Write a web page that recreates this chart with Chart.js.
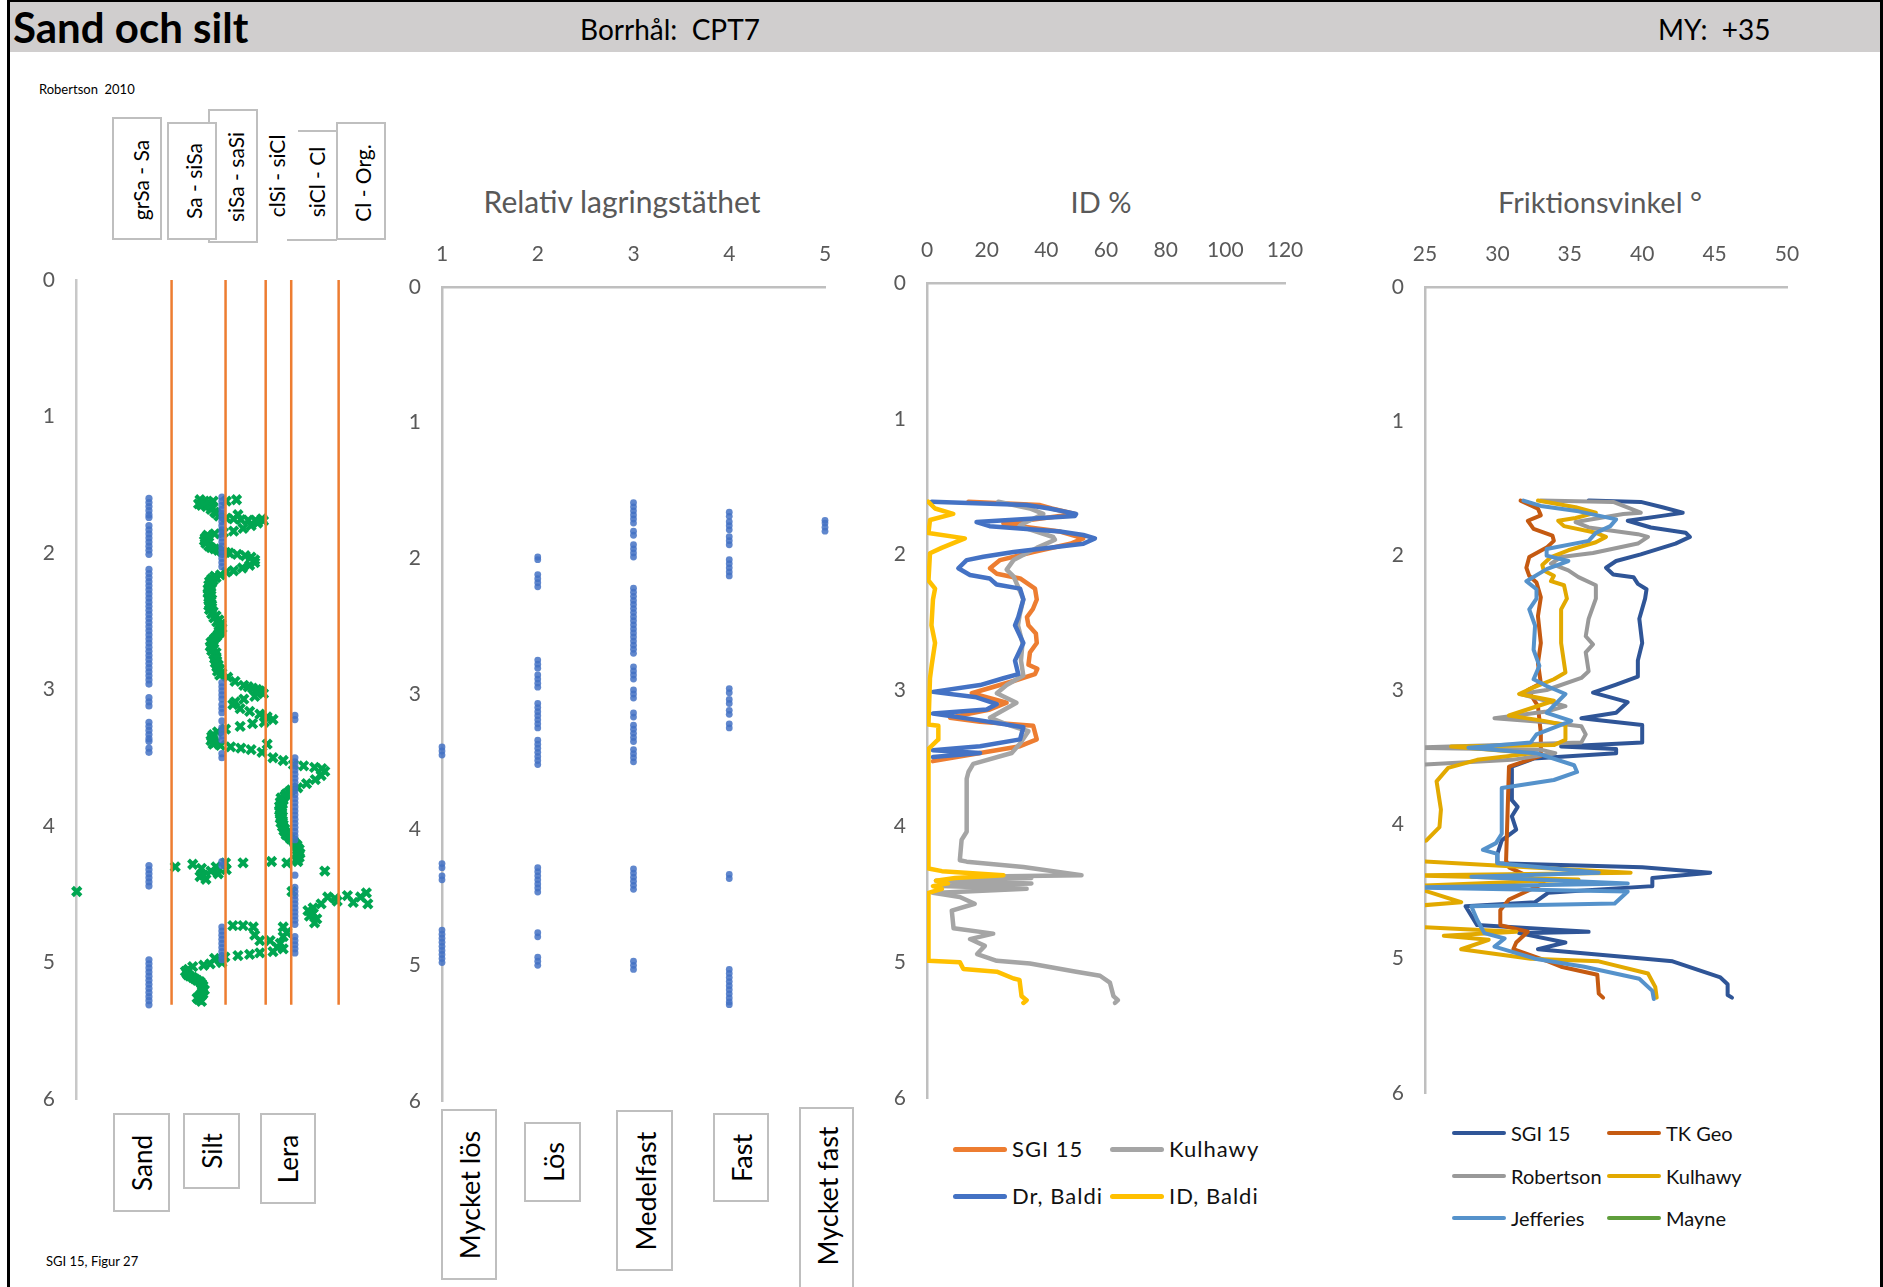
<!DOCTYPE html>
<html>
<head>
<meta charset="utf-8">
<title>Sand och silt – CPT7</title>
<script src="https://cdn.jsdelivr.net/npm/chart.js@4.4.1/dist/chart.umd.min.js"></script>
<style>
  html, body { margin: 0; padding: 0; background: #fff; }
  body { position: relative; width: 1883px; height: 1287px; overflow: hidden;
         font-family: Lato, "Open Sans", sans-serif; color: #000; }
  canvas { position: absolute; }
  .abs { position: absolute; }
  .txt { position: absolute; white-space: nowrap; line-height: 1; }
  .vtxt { position: absolute; white-space: nowrap; line-height: 1;
          transform: translate(-50%, -50%) rotate(-90deg); }
  .box { position: absolute; box-sizing: border-box; border: 2px solid #bfbfbf; background: #fff; }
  .sw { position: absolute; border-radius: 3px; }
</style>
</head>
<body>
<div class="abs" style="left:7px;top:0;width:1876px;height:1287px;border-left:3px solid #000;border-right:3px solid #000;border-top:2px solid #000;box-sizing:border-box;"></div>
<div class="abs" style="left:10px;top:2px;width:1870px;height:50px;background:#d0cece;"></div>
<div class="txt" style="left:13px;top:6px;font-size:42px;font-weight:700;">Sand och silt</div>
<div class="txt" style="left:580px;top:15px;font-size:28px;">Borrhål:&nbsp; CPT7</div>
<div class="txt" style="left:1658px;top:15px;font-size:28px;">MY:&nbsp; +35</div>
<div class="txt" style="left:39px;top:83px;font-size:13px;">Robertson&nbsp; 2010</div>
<div class="txt" style="left:46px;top:1255px;font-size:13px;">SGI 15, Figur 27</div>

<div id="labels"></div>

<canvas id="cSoil"></canvas>
<canvas id="cDensity"></canvas>
<canvas id="cId"></canvas>
<canvas id="cPhi"></canvas>

<script>
// ---------------- data ----------------
const depthTicks = [0, 1, 2, 3, 4, 5, 6];

// Robertson (2010) soil behaviour zones, Ic boundaries
const zoneNames  = ['grSa - Sa', 'Sa - siSa', 'siSa - saSi', 'clSi - siCl', 'siCl - Cl', 'Cl - Org.'];
const zoneBounds = [1.31, 2.05, 2.60, 2.95, 3.60];
const zoneLineDepth = [0, 5.31];

// soil type columns (x = 1 sand, 2 silt, 3 clay)
const soilTypes = ['Sand', 'Silt', 'Lera'];
const sandDepths = [1.60,1.63,1.66,1.69,1.72,1.74,1.80,1.83,1.86,1.89,1.92,1.95,1.98,2.01,
  2.12,2.15,2.18,2.21,2.24,2.27,2.30,2.33,2.36,2.39,2.42,2.45,2.48,2.51,2.54,2.57,2.60,2.63,2.66,
  2.69,2.72,2.75,2.78,2.81,2.84,2.87,2.90,2.93,2.96,3.06,3.09,3.12,3.24,3.27,3.30,3.33,3.36,3.38,
  3.43,3.46,4.29,4.32,4.35,4.38,4.41,4.44,4.98,5.01,5.04,5.07,5.10,5.13,5.16,5.19,5.22,5.25,5.28,5.31];
const siltDepths = [1.59,1.62,1.65,1.68,1.71,1.74,1.77,1.80,1.83,1.86,1.89,1.92,1.95,1.98,2.01,2.04,
  2.07,2.10,2.95,2.98,3.01,3.04,3.07,3.11,3.14,3.17,3.23,3.28,3.31,3.34,3.37,3.47,3.50,4.26,4.29,
  4.74,4.77,4.80,4.83,4.86,4.89,4.92,4.95,4.98];
const clayDepths = [3.19,3.22,3.50,3.53,3.56,3.59,3.62,3.65,3.68,3.71,3.74,3.77,3.80,3.83,3.86,3.89,
  3.92,3.95,3.98,4.01,4.04,4.07,4.10,4.36,4.45,4.48,4.51,4.54,4.57,4.60,4.63,4.66,4.69,4.72,
  4.81,4.84,4.87,4.90,4.93];

// soil behaviour index Ic vs depth [Ic, depth]
const icProfile = [
  [1.70,1.61],[1.76,1.62],[1.82,1.63],[1.88,1.62],[2.06,1.62],[2.20,1.61],[1.72,1.65],[1.79,1.66],
  [1.68,1.64],[1.75,1.64],[1.83,1.65],[1.87,1.67],[1.92,1.71],
  [1.85,1.68],[1.90,1.70],[2.22,1.72],[1.96,1.73],[2.06,1.745],[2.16,1.75],[2.26,1.755],[2.36,1.76],
  [2.46,1.76],[2.55,1.75],[2.57,1.765],[2.49,1.78],[2.40,1.80],[2.29,1.82],[2.16,1.84],[2.02,1.85],
  [1.90,1.86],[1.82,1.88],[1.78,1.90],[1.79,1.92],[1.82,1.95],[1.90,1.97],[2.00,1.99],[2.10,2.00],
  [1.80,1.87],[1.77,1.89],[1.76,1.91],[1.78,1.93],[1.85,1.96],[1.95,1.98],[2.05,1.995],
  [2.21,2.01],[2.32,2.02],[2.40,2.03],[2.45,2.05],[2.45,2.07],[2.38,2.09],[2.28,2.11],[2.16,2.13],
  [2.06,2.14],[1.98,2.16],[1.92,2.18],[1.88,2.20],[1.86,2.22],[1.85,2.25],[1.84,2.28],[1.85,2.31],
  [1.86,2.34],[1.85,2.37],[1.86,2.40],[1.88,2.43],[1.92,2.46],[1.96,2.49],[1.99,2.52],[2.00,2.55],
  [1.98,2.58],[1.93,2.61],[1.88,2.64],[1.87,2.67],[1.89,2.70],[1.92,2.73],[1.92,2.76],[1.93,2.79],
  [1.95,2.82],[1.97,2.85],[2.00,2.88],
  [1.90,2.17],[1.86,2.19],[1.83,2.21],[1.82,2.235],[1.81,2.265],[1.81,2.295],[1.82,2.325],[1.83,2.355],
  [1.82,2.385],[1.83,2.415],[1.86,2.445],[1.89,2.475],[1.93,2.505],[1.96,2.535],[1.97,2.565],[1.95,2.595],
  [1.90,2.625],[1.85,2.655],[1.84,2.685],[1.86,2.715],[1.89,2.745],[1.90,2.775],[1.91,2.805],[1.93,2.835],
  [1.94,2.865],[1.97,2.895],
  [2.08,2.91],[2.18,2.94],[2.30,2.97],[2.42,2.99],[2.52,3.01],[2.36,2.98],[2.48,3.00],[2.55,3.02],
  [2.57,3.03],[2.45,3.05],[2.30,3.07],[2.18,3.09],[2.15,3.11],[2.25,3.14],[2.38,3.16],[2.52,3.18],
  [2.62,3.20],[2.70,3.22],[2.58,3.24],[2.42,3.25],[2.25,3.27],[2.05,3.29],[1.94,3.31],[1.88,3.33],
  [1.87,3.36],[1.90,3.39],[1.86,3.345],[1.85,3.375],[1.88,3.40],
  [1.98,3.41],[2.12,3.42],[2.26,3.43],[2.40,3.44],[2.62,3.40],[2.55,3.46],
  [2.70,3.50],[2.84,3.52],[2.98,3.55],[3.12,3.56],[3.27,3.57],[3.37,3.58],[3.41,3.60],[3.36,3.63],
  [3.28,3.66],[3.16,3.69],[3.04,3.72],[2.92,3.75],[2.86,3.78],[2.84,3.81],[2.83,3.84],[2.82,3.87],
  [2.82,3.90],[2.83,3.93],[2.83,3.96],[2.84,3.99],[2.86,4.02],[2.88,4.05],[2.92,4.08],[2.98,4.11],
  [3.03,4.14],[3.06,4.17],[3.07,4.20],[3.06,4.23],[3.04,4.26],
  [2.95,3.735],[2.88,3.765],[2.81,3.795],[2.80,3.825],[2.79,3.855],[2.79,3.885],[2.80,3.915],[2.80,3.945],
  [2.81,3.975],[2.83,4.005],[2.85,4.035],[2.88,4.065],[2.94,4.095],[3.00,4.125],[3.03,4.155],[3.04,4.185],
  [3.03,4.215],[3.02,4.245],
  [1.36,4.30],[1.60,4.28],[1.72,4.31],[1.75,4.36],[1.78,4.39],[1.70,4.37],[1.92,4.30],[1.95,4.35],
  [1.85,4.33],[2.05,4.27],[2.06,4.32],[2.29,4.27],[2.68,4.26],[2.89,4.27],[3.41,4.33],[0.01,4.48],
  [2.96,4.48],[3.98,4.49],[3.90,4.52],[3.72,4.51],[3.55,4.53],[3.45,4.52],[3.58,4.55],[4.00,4.57],
  [3.80,4.56],[3.36,4.57],[3.25,4.60],[3.18,4.62],[3.25,4.64],[3.20,4.66],[3.30,4.68],[3.27,4.71],
  [2.15,4.73],[2.29,4.73],[2.43,4.74],[2.84,4.74],[2.89,4.78],[2.84,4.81],[2.45,4.80],[2.52,4.84],
  [2.66,4.84],[2.80,4.86],[2.76,4.89],[2.84,4.90],[2.70,4.92],[2.52,4.93],[2.38,4.94],[2.22,4.95],
  [2.04,4.96],[1.97,4.98],[1.90,4.97],[2.00,5.00],[1.84,5.01],[1.75,5.02],[1.60,5.03],[1.54,5.05],
  [1.52,5.08],[1.56,5.10],[1.63,5.12],[1.70,5.14],[1.74,5.17],[1.76,5.20],[1.74,5.23],[1.70,5.25],
  [1.68,5.27],
  [1.50,5.065],[1.53,5.09],[1.60,5.11],[1.66,5.13],[1.72,5.155],[1.73,5.185],[1.73,5.215],[1.70,5.24],
  [1.66,5.26],[1.72,5.285]
];

// relative density class (1..5) – depths where each class occurs
const densityNames = ['Mycket lös', 'Lös', 'Medelfast', 'Fast', 'Mycket fast'];
const densityTicks = [1, 2, 3, 4, 5];
const class1Depths = [3.39,3.42,3.45,4.25,4.28,4.34,4.37,4.74,4.77,4.80,4.83,4.86,4.89,4.92,4.95,4.98];
const class2Depths = [1.99,2.01,2.12,2.15,2.18,2.21,2.75,2.78,2.81,2.86,2.89,2.92,2.95,3.07,3.10,3.13,
  3.16,3.19,3.22,3.25,3.34,3.37,3.40,3.43,3.46,3.49,3.52,4.28,4.31,4.34,4.37,4.40,4.43,4.46,4.76,4.79,
  4.94,4.97,5.00];
const class3Depths = [1.59,1.62,1.65,1.68,1.71,1.74,1.80,1.83,1.90,1.93,1.96,1.99,2.22,2.25,2.28,2.31,
  2.34,2.37,2.40,2.43,2.46,2.49,2.52,2.55,2.58,2.61,2.64,2.67,2.70,2.80,2.83,2.86,2.89,2.97,3.00,3.03,
  3.14,3.17,3.23,3.26,3.29,3.32,3.35,3.41,3.44,3.47,3.50,4.29,4.32,4.35,4.38,4.41,4.44,4.97,5.00,5.03];
const class4Depths = [1.66,1.69,1.73,1.76,1.79,1.84,1.87,1.90,2.01,2.04,2.07,2.10,2.13,2.96,2.99,3.04,
  3.07,3.12,3.15,3.22,3.25,4.33,4.36,5.03,5.06,5.09,5.12,5.15,5.18,5.21,5.24,5.27,5.29];
const class5Depths = [1.72,1.74,1.77,1.80];

// relative density ID % vs depth [ID, depth]
const idTicks = [0, 20, 40, 60, 80, 100, 120];
const idSgi15 = [[13.9,1.61],[37.9,1.635],[41.8,1.66],[49.6,1.70],[25.6,1.77],[31.2,1.79],[44.6,1.83],
  [52.4,1.88],[48,1.92],[35.6,1.98],[24.5,2.04],[21.1,2.10],[23.4,2.14],[31.2,2.175],[36.2,2.25],
  [36.8,2.33],[35.5,2.40],[33.5,2.46],[34,2.52],[36.5,2.58],[36.8,2.65],[34.5,2.72],[34,2.81],
  [37,2.84],[36.2,2.88],[29,2.93],[15,3.02],[26.7,3.09],[21.1,3.14],[7.7,3.20],[17.8,3.23],
  [35.6,3.26],[36.8,3.36],[31.2,3.41],[17.8,3.46],[2,3.52]];
const idKulhawy = [[23.9,1.61],[34.5,1.66],[39,1.70],[32.3,1.77],[31,1.79],[42.3,1.87],[42.9,1.89],
  [36.8,1.95],[29,2.04],[26.7,2.11],[29,2.16],[30,2.21],[31,2.26],[32.3,2.33],[31,2.45],[30.5,2.52],
  [32,2.65],[31.5,2.78],[32.3,2.89],[26.7,2.96],[23.4,3.02],[30,3.09],[21.1,3.20],[26.7,3.25],
  [34,3.30],[31.2,3.39],[28.4,3.46],[15.5,3.54],[13.9,3.60],[13.3,3.65],[13.3,4.04],[11.6,4.10],
  [11,4.25],[13.3,4.26],[32.3,4.30],[51.8,4.36],[20,4.37],[35,4.38],[3,4.40],[35,4.42],[5,4.44],
  [33.4,4.46],[2,4.49],[11,4.52],[16,4.57],[8.3,4.62],[8.9,4.75],[22.2,4.79],[14.4,4.83],
  [19.4,4.88],[16.8,4.94],[23.4,4.99],[34.5,5.01],[50,5.07],[58,5.10],[61.3,5.15],[62.5,5.25],
  [64,5.28],[63,5.30]];
const idDrBaldi = [[1.6,1.61],[33.4,1.635],[41,1.66],[50,1.70],[49.6,1.715],[16.6,1.76],[21,1.79],
  [44.6,1.83],[52.4,1.855],[56.3,1.88],[52.4,1.92],[44.6,1.94],[29,1.98],[18.9,2.015],[13.3,2.04],
  [10.5,2.10],[14.4,2.15],[21,2.175],[23.3,2.22],[31.2,2.25],[32.3,2.33],[30.6,2.46],[29.5,2.52],
  [32.3,2.65],[29.5,2.78],[30.6,2.88],[25.6,2.91],[17.8,2.96],[2,3.01],[16.6,3.05],[23.4,3.10],
  [20,3.14],[2,3.17],[17.8,3.22],[32.3,3.27],[31.2,3.36],[17.8,3.41],[2,3.44],[17.8,3.46],[2,3.49]];
const idBaldi = [[0.4,1.61],[2.7,1.66],[8.8,1.70],[1,1.745],[0.5,1.84],[12.7,1.88],[4.9,1.95],
  [1,1.99],[0.5,2.19],[2.7,2.25],[2,2.33],[1.5,2.52],[2.7,2.65],[1.6,2.81],[1,2.91],[0.5,3.25],
  [3.8,3.26],[3.8,3.36],[0.5,3.43],[0.5,4.31],[5,4.33],[25.6,4.36],[9.4,4.38],[3,4.40],[7,4.42],
  [2,4.44],[5,4.46],[0.5,4.49],[0.5,4.99],[11,5.0],[12.2,5.05],[23.4,5.07],[29,5.12],[31,5.13],
  [31.7,5.25],[33.4,5.28],[32.3,5.30]];

// friction angle (degrees) vs depth [phi, depth]
const phiTicks = [25, 30, 35, 40, 45, 50];
const phiSgi15 = [[36.3,1.59],[39.9,1.60],[41.4,1.64],[42.8,1.68],[41.6,1.70],[39,1.74],[40.6,1.79],
  [43,1.83],[43.3,1.86],[42.3,1.91],[39.9,1.99],[38.2,2.04],[37.5,2.09],[38,2.14],[39.4,2.16],
  [39.7,2.21],[40.3,2.25],[40.2,2.32],[39.8,2.47],[40,2.65],[39.7,2.78],[39.7,2.90],[38.2,2.96],
  [36.6,3.02],[38,3.06],[39,3.09],[38.2,3.17],[35.8,3.21],[40,3.26],[40,3.39],[34.4,3.42],
  [38.2,3.44],[38.2,3.47],[32.5,3.51],[31,3.57],[31,3.82],[31.4,3.87],[31,3.94],[31.3,4.04],
  [30.3,4.12],[30,4.22],[30,4.29],[40,4.32],[44.7,4.36],[40.7,4.40],[40.7,4.46],[33.5,4.51],
  [32.6,4.58],[27.8,4.61],[28.6,4.75],[36.3,4.80],[31.5,4.81],[34.7,4.88],[32.8,4.93],[40.2,5.00],
  [42.1,5.02],[45.4,5.14],[45.9,5.19],[45.9,5.27],[46.2,5.29]];
const phiTkGeo = [[31.6,1.59],[32.8,1.65],[33,1.70],[32.1,1.74],[32.5,1.80],[33.8,1.85],[33.9,1.89],
  [33.4,1.94],[32.2,2.01],[32,2.09],[32.2,2.15],[32.7,2.20],[33,2.31],[32.8,2.45],[33,2.65],
  [32.8,2.80],[33,2.95],[32.1,3.0],[32.8,3.12],[33,3.32],[33,3.49],[30.8,3.57],[30.6,4.27],
  [30.8,4.32],[33.2,4.44],[30.8,4.56],[30.2,4.64],[30.2,4.75],[32.1,4.80],[31.3,4.88],[31.1,4.93],
  [33.5,5.02],[34.4,5.06],[36.9,5.12],[37,5.26],[37.3,5.29]];
const phiRobertson = [[33,1.59],[38,1.60],[39.9,1.68],[38.7,1.69],[35.4,1.75],[36.3,1.79],[39.7,1.84],
  [40.4,1.86],[39.7,1.91],[36.6,1.98],[34.4,2.01],[33.7,2.06],[34.9,2.11],[35.6,2.16],[36.8,2.22],
  [36.8,2.32],[36.3,2.47],[36.1,2.60],[36.6,2.66],[36.1,2.72],[36.3,2.86],[35.8,2.91],[33.4,3.0],
  [31.6,3.03],[34.7,3.12],[33.4,3.16],[29.8,3.21],[33.4,3.24],[35.8,3.27],[36.1,3.33],[35.8,3.39],
  [24,3.43],[33,3.445],[34,3.47],[31,3.52],[24,3.56]];
const phiKulhawy = [[32.8,1.59],[35.4,1.64],[36.8,1.68],[35.4,1.72],[34.2,1.74],[34.6,1.78],[36.8,1.83],
  [37.5,1.86],[36.8,1.90],[34.9,1.96],[33.7,2.01],[33.1,2.07],[33.2,2.11],[33.9,2.15],[33.7,2.19],
  [34.6,2.22],[34.8,2.32],[34.4,2.40],[34.4,2.65],[34.7,2.87],[33.9,2.92],[32.5,2.98],[31.5,3.03],
  [33.9,3.08],[30.8,3.19],[33.2,3.23],[34.7,3.26],[34.7,3.37],[33.9,3.41],[26.8,3.42],[32.5,3.47],
  [28.6,3.52],[26.6,3.58],[25.8,3.68],[26,3.82],[26.1,3.89],[26,4.02],[25.1,4.12],[24,4.14],
  [24,4.27],[32.1,4.32],[39.2,4.36],[24,4.38],[35.6,4.41],[24,4.46],[27.5,4.58],[24,4.61],
  [24,4.76],[31.3,4.80],[26.3,4.83],[29.4,4.86],[27.5,4.93],[32.3,5.00],[37,5.02],[40.4,5.11],
  [40.9,5.21],[41,5.29]];
const phiJefferies = [[31.8,1.59],[33,1.63],[35.6,1.67],[38.2,1.73],[37.8,1.78],[36.8,1.83],[36.3,1.89],
  [33.4,1.95],[33.4,2.00],[34.9,2.04],[33.4,2.10],[32,2.19],[32.7,2.25],[32.7,2.32],[32.2,2.40],
  [32.6,2.52],[32.5,2.70],[32.9,2.82],[32.5,2.92],[33.4,2.97],[34.7,3.03],[33.4,3.17],[35.1,3.23],
  [32.7,3.33],[32.3,3.39],[28,3.43],[32.7,3.47],[35.3,3.56],[35.5,3.61],[33.9,3.67],[30.3,3.73],
  [30.3,4.07],[29.9,4.14],[29,4.19],[30,4.22],[30,4.29],[37,4.36],[28.2,4.39],[39,4.44],[24,4.47],
  [39,4.50],[38.1,4.59],[28.2,4.61],[28.6,4.71],[29.1,4.81],[30.5,4.85],[29.8,4.91],[32.6,5.00],
  [36,5.06],[39.8,5.15],[40.7,5.24],[40.8,5.30]];
const phiMayne = [];

const idSeriesNames  = ['SGI 15', 'Kulhawy', 'Dr, Baldi', 'ID, Baldi'];
const phiSeriesNames = ['SGI 15', 'TK Geo', 'Robertson', 'Kulhawy', 'Jefferies', 'Mayne'];

// ---------------- styling ----------------
const C = {
  tick: '#595959', axis: '#bfbfbf', zone: '#ed7d31', dot: 'rgba(68,114,196,0.85)', ic: '#00a651',
  id: ['#ed7d31', '#a5a5a5', '#4472c4', '#ffc000'],
  phi: ['#2f5597', '#c55a11', '#999999', '#e2a900', '#5592cb', '#5f9e3c']
};
Chart.defaults.font.family = 'Lato, "Open Sans", sans-serif';
Chart.defaults.color = C.tick;

const pairs = arr => arr.map(p => ({ x: p[0], y: p[1] }));
const column = (x, depths) => depths.map(d => ({ x: x, y: d }));

function depthAxis(borderColor) {
  return {
    type: 'linear', reverse: true, min: 0, max: 6,
    afterFit: s => { s.width = 60; },
    afterBuildTicks: s => { s.ticks = depthTicks.map(v => ({ value: v })); },
    ticks: { padding: 21, color: C.tick, font: { size: 21 } },
    grid: { display: false, drawTicks: false },
    border: { display: true, color: borderColor, width: 2.5 }
  };
}
function topAxis(min, max, tickValues) {
  return {
    type: 'linear', position: 'top', min: min, max: max,
    afterFit: s => { s.height = 50; },
    afterBuildTicks: s => { s.ticks = tickValues.map(v => ({ value: v })); },
    ticks: { padding: 20, color: C.tick, font: { size: 21 } },
    grid: { display: false, drawTicks: false },
    border: { display: true, color: C.axis, width: 2.5 }
  };
}
function lineSet(data, color, width, order) {
  return { data: pairs(data), showLine: true, borderColor: color, backgroundColor: color,
           borderWidth: width, pointRadius: 0, tension: 0, order: order,
           borderJoinStyle: 'round', borderCapStyle: 'round' };
}
// the depth axis reserves label half-height plus tick padding above and below the plot,
// so the outer padding is set to that same amount to keep the plot box exact
const V = 34;
function makeChart(id, box, xScale, yScale, datasets) {
  const cv = document.getElementById(id);
  cv.width = box.w; cv.height = box.h;
  cv.style.left = box.x + 'px'; cv.style.top = box.y + 'px';
  cv.style.width = box.w + 'px'; cv.style.height = box.h + 'px';
  return new Chart(cv, {
    type: 'scatter',
    data: { datasets: datasets },
    options: {
      responsive: false, animation: false, devicePixelRatio: 1,
      layout: { padding: box.pad },
      plugins: { legend: { display: false }, tooltip: { enabled: false } },
      scales: { x: xScale, y: yScale }
    }
  });
}

// ---------------- panel 1: soil behaviour type ----------------
const soilSets = [];
zoneBounds.forEach(b => {
  soilSets.push({ data: zoneLineDepth.map(d => ({ x: b, y: d })), showLine: true, borderColor: C.zone,
                  borderWidth: 2.5, pointRadius: 0, order: 1 });
});
[sandDepths, siltDepths, clayDepths].forEach((deps, i) => {
  soilSets.push({ data: column(i + 1, deps), pointRadius: 3.6, pointStyle: 'circle',
                  backgroundColor: C.dot, borderWidth: 0, clip: false, order: 2 });
});
soilSets.push({ data: pairs(icProfile), pointStyle: 'crossRot', pointRadius: 6, borderWidth: 4,
                borderColor: C.ic, backgroundColor: C.ic, clip: false, order: 3 });
makeChart('cSoil', { x: 16, y: 280 - V, w: 401, h: 819 + 2 * V, pad: { top: V, right: 20, bottom: V, left: 0 } },
  { type: 'linear', min: 0, max: 4.4, display: false },
  depthAxis('#c8c8c8'), soilSets);

// ---------------- panel 2: relative density class ----------------
const densitySets = [class1Depths, class2Depths, class3Depths, class4Depths, class5Depths].map((deps, i) => ({
  data: column(densityTicks[i], deps), pointRadius: 3.4, pointStyle: 'circle',
  backgroundColor: C.dot, borderWidth: 0, clip: false
}));
makeChart('cDensity', { x: 382, y: 237, w: 483, h: 864 + V, pad: { top: 0, right: 40, bottom: V, left: 0 } },
  topAxis(1, 5, densityTicks), depthAxis(C.axis), densitySets);

// ---------------- panel 3: ID % ----------------
const idSets = [idSgi15, idKulhawy, idDrBaldi, idBaldi].map((s, i) => lineSet(s, C.id[i], 4.5, 4 - i));
makeChart('cId', { x: 867, y: 233, w: 458, h: 865 + V, pad: { top: 0, right: 40, bottom: V, left: 0 } },
  topAxis(0, 120, idTicks), depthAxis(C.axis), idSets);

// ---------------- panel 4: friction angle ----------------
const phiSets = [phiSgi15, phiTkGeo, phiRobertson, phiKulhawy, phiJefferies, phiMayne]
  .map((s, i) => lineSet(s, C.phi[i], 4, 6 - i));
makeChart('cPhi', { x: 1365, y: 237, w: 462, h: 856 + V, pad: { top: 0, right: 40, bottom: V, left: 0 } },
  topAxis(25, 50, phiTicks), depthAxis(C.axis), phiSets);

// ---------------- titles, boxed labels, legends ----------------
const labels = document.getElementById('labels');
function addEl(cls, style, text) {
  const d = document.createElement('div');
  d.className = cls; d.setAttribute('style', style);
  if (text !== undefined) d.textContent = text;
  labels.appendChild(d);
  return d;
}
// panel titles
[['Relativ lagringstäthet', 622, 30], ['ID %', 1101, 29], ['Friktionsvinkel °', 1600, 29]].forEach(t => {
  addEl('txt', `left:${t[1]}px;top:201px;transform:translate(-50%,-50%);font-size:${t[2]}px;color:#595959;`, t[0]);
});

// zone header boxes (later boxes overlap earlier ones)
const zoneBoxes = [
  { l: 112, t: 117, w: 50, h: 123, cx: 140, cy: 180 },
  { l: 167, t: 122, w: 50, h: 118, cx: 193, cy: 181 },
  { l: 208, t: 109, w: 50, h: 134, cx: 235, cy: 177 },
  { l: 0,   t: 0,   w: 0,  h: 0,   cx: 276, cy: 176 },
  { l: 298, t: 130, w: 40, h: 111, cx: 316, cy: 182 },
  { l: 336, t: 122, w: 50, h: 118, cx: 362, cy: 183 }
];
[2, 1, 0].forEach(i => { const b = zoneBoxes[i];
  addEl('box', `left:${b.l}px;top:${b.t}px;width:${b.w}px;height:${b.h}px;`); });
addEl('abs', 'left:287px;top:239px;width:50px;height:2px;background:#bfbfbf;');
addEl('abs', 'left:298px;top:130px;width:40px;height:2px;background:#bfbfbf;');
{ const b = zoneBoxes[5]; addEl('box', `left:${b.l}px;top:${b.t}px;width:${b.w}px;height:${b.h}px;`); }
zoneNames.forEach((n, i) => {
  const b = zoneBoxes[i];
  addEl('vtxt', `left:${b.cx}px;top:${b.cy}px;font-size:21px;`, n);
});

// soil type boxes under panel 1
const soilBoxes = [
  { l: 113, t: 1113, w: 57, h: 99 },
  { l: 183, t: 1113, w: 57, h: 76 },
  { l: 260, t: 1113, w: 56, h: 91 }
];
soilTypes.forEach((n, i) => {
  const b = soilBoxes[i];
  addEl('box', `left:${b.l}px;top:${b.t}px;width:${b.w}px;height:${b.h}px;`);
  addEl('vtxt', `left:${b.l + b.w / 2}px;top:${b.t + b.h / 2}px;font-size:26px;`, n);
});

// density class boxes under panel 2
const densityBoxes = [
  { l: 441, t: 1109, w: 56, h: 171 },
  { l: 524, t: 1122, w: 57, h: 80 },
  { l: 616, t: 1110, w: 57, h: 161 },
  { l: 713, t: 1113, w: 56, h: 89 },
  { l: 799, t: 1107, w: 55, h: 190 }
];
densityNames.forEach((n, i) => {
  const b = densityBoxes[i];
  addEl('box', `left:${b.l}px;top:${b.t}px;width:${b.w}px;height:${b.h}px;`);
  const cy = i === 4 ? 1196 : b.t + b.h / 2;
  addEl('vtxt', `left:${b.l + b.w / 2}px;top:${cy}px;font-size:27px;`, n);
});

// legends
function legendItem(x, y, color, text, swW, swH, font, spacing) {
  addEl('sw', `left:${x}px;top:${y - swH / 2}px;width:${swW}px;height:${swH}px;background:${color};`);
  addEl('txt', `left:${x + swW + 5}px;top:${y}px;transform:translateY(-50%);font-size:${font}px;letter-spacing:${spacing}px;color:#111;`, text);
}
const idLegendPos = [[953, 1149], [1110, 1149], [953, 1196], [1110, 1196]];
idSeriesNames.forEach((n, i) => legendItem(idLegendPos[i][0], idLegendPos[i][1], C.id[i], n, 54, 5, 22, 1));
const phiLegendPos = [[1452, 1133], [1607, 1133], [1452, 1176], [1607, 1176], [1452, 1218], [1607, 1218]];
phiSeriesNames.forEach((n, i) => legendItem(phiLegendPos[i][0], phiLegendPos[i][1], C.phi[i], n, 54, 4, 20, 0));
</script>
</body>
</html>
